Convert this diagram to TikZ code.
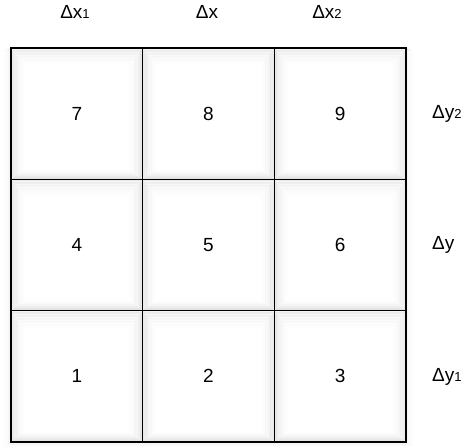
\documentclass[tikz,border=0pt]{standalone}
\usepackage{fontspec}
\setmainfont{Liberation Sans}
\newcommand{\sm}[1]{{\fontsize{13}{13}\selectfont #1}}
\begin{document}
\begin{tikzpicture}[x=1pt,y=-1pt,
  lbl/.style={font=\fontsize{19}{19}\selectfont, inner sep=0pt},
  cell/.style={draw=black, line width=1.4pt, minimum width=131.67pt, minimum height=131.33pt, inner sep=0pt, font=\fontsize{19}{19}\selectfont}]
\useasboundingbox (0,0) rectangle (471,447);
\fill[white] (0,0) rectangle (471,447);
% outer glow
\foreach \k in {2,...,16}{
  \draw[black, opacity={0.03*(1-\k/17)^2}, line width=1pt]
    (11-\k*0.6,48+\k*0.2) rectangle (406+\k*0.6,442+\k*0.4);
}
% cells
\foreach \r in {0,1,2}{
  \foreach \c in {0,1,2}{
    \pgfmathsetmacro{\xa}{11+\c*131.67}
    \pgfmathsetmacro{\ya}{48+\r*131.33}
    \fill[white] (\xa,\ya) rectangle ++(131.67,131.33);
    \begin{scope}
    \clip (\xa,\ya) rectangle ++(131.67,131.33);
    \foreach \k in {0,...,26}{
      \draw[black, opacity={0.045*(1-\k/27)^1.6}, line width=1.2pt]
        (\xa+\k*0.55,\ya+\k*0.75) rectangle (\xa+131.67-\k*0.55,\ya+131.33-\k*0.4);
    }
    \end{scope}
  }
}
% grid cells with numbers
\node[cell] (c7) at (76.8,113.7) {7};
\node[cell] (c8) at (208.5,113.7) {8};
\node[cell] (c9) at (340.2,113.7) {9};
\node[cell] (c4) at (76.8,245) {4};
\node[cell] (c5) at (208.5,245) {5};
\node[cell] (c6) at (340.2,245) {6};
\node[cell] (c1) at (76.8,376.3) {1};
\node[cell] (c2) at (208.5,376.3) {2};
\node[cell] (c3) at (340.2,376.3) {3};
% labels
\node[lbl] (dx1) at (75,12) {Δx\sm{1}};
\node[lbl] (dx) at (207,12) {Δx};
\node[lbl] (dx2) at (327,12) {Δx\sm{2}};
\node[lbl, anchor=west] (dy2) at (432,113.7) {Δy\sm{2}};
\node[lbl, anchor=west] (dy) at (432,245) {Δy};
\node[lbl, anchor=west] (dy1) at (432,377) {Δy\sm{1}};
\end{tikzpicture}
\end{document}
